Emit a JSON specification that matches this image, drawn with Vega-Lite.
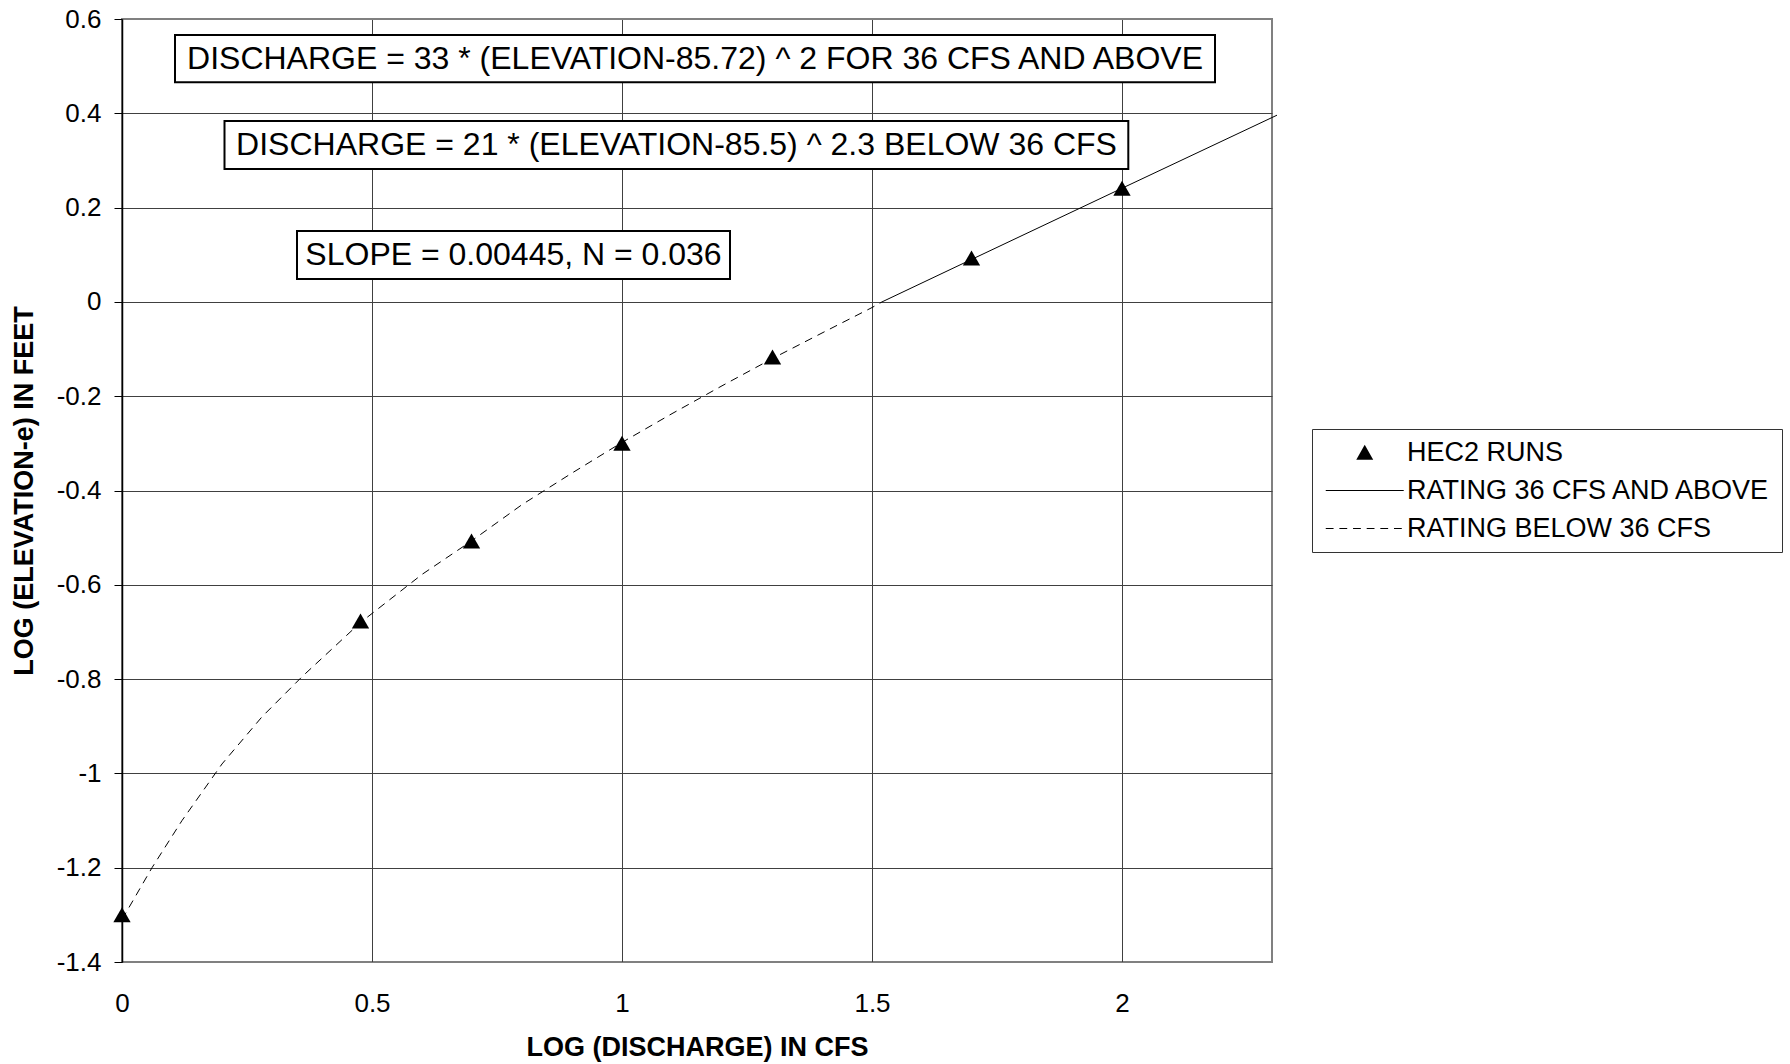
{
  "$schema": "https://vega.github.io/schema/vega-lite/v6.json",
  "width": 1150,
  "height": 943,
  "autosize": {"type": "none"},
  "padding": {"left": 122, "top": 19, "right": 518, "bottom": 102},
  "background": "white",
  "config": {
    "font": "Liberation Sans",
    "view": {"stroke": "#808080", "strokeWidth": 2},
    "axis": {
      "gridColor": "#404040",
      "gridWidth": 1,
      "gridOpacity": 1,
      "labelColor": "black",
      "labelFont": "Liberation Sans",
      "labelFontSize": 26,
      "titleColor": "black",
      "titleFont": "Liberation Sans",
      "titleFontSize": 27,
      "titleFontWeight": "bold",
      "labelFlush": false,
      "labelOverlap": false
    }
  },
  "datasets": {
    "boxes": [
      {"label": "DISCHARGE = 33 * (ELEVATION-85.72) ^ 2 FOR 36 CFS AND ABOVE", "x1": 0.106, "x2": 2.186, "y1": 0.566, "y2": 0.4657, "tx": 1.146, "ty": 0.516},
      {"label": "DISCHARGE = 21 * (ELEVATION-85.5) ^ 2.3 BELOW 36 CFS", "x1": 0.205, "x2": 2.0126, "y1": 0.3837, "y2": 0.2819, "tx": 1.109, "ty": 0.333},
      {"label": "SLOPE = 0.00445, N = 0.036", "x1": 0.35, "x2": 1.216, "y1": 0.1504, "y2": 0.0486, "tx": 0.783, "ty": 0.0995}
    ],
    "below": [
      {"q": 0.0, "e": -1.31},
      {"q": 0.06, "e": -1.20},
      {"q": 0.12, "e": -1.10},
      {"q": 0.2, "e": -0.98},
      {"q": 0.28, "e": -0.88},
      {"q": 0.36, "e": -0.795},
      {"q": 0.477, "e": -0.68},
      {"q": 0.6, "e": -0.578},
      {"q": 0.699, "e": -0.507},
      {"q": 0.8, "e": -0.43},
      {"q": 0.9, "e": -0.363},
      {"q": 1.0, "e": -0.298},
      {"q": 1.1, "e": -0.237},
      {"q": 1.2, "e": -0.178},
      {"q": 1.301, "e": -0.12},
      {"q": 1.4, "e": -0.066},
      {"q": 1.5, "e": -0.012},
      {"q": 1.52, "e": 0.0}
    ],
    "above": [
      {"q": 1.52, "e": 0.0},
      {"q": 1.699, "e": 0.09},
      {"q": 2.0, "e": 0.241},
      {"q": 2.31, "e": 0.396}
    ],
    "hec2": [
      {"q": 0.0, "e": -1.30, "series": "HEC2 RUNS"},
      {"q": 0.477, "e": -0.677, "series": "HEC2 RUNS"},
      {"q": 0.699, "e": -0.507, "series": "HEC2 RUNS"},
      {"q": 1.0, "e": -0.30, "series": "HEC2 RUNS"},
      {"q": 1.301, "e": -0.117, "series": "HEC2 RUNS"},
      {"q": 1.699, "e": 0.093, "series": "HEC2 RUNS"},
      {"q": 2.0, "e": 0.241, "series": "HEC2 RUNS"}
    ]
  },
  "layer": [
    {
      "data": {"name": "boxes"},
      "mark": {"type": "rect", "fill": "white", "stroke": "black", "strokeWidth": 2},
      "encoding": {
        "x": {
          "field": "x1", "type": "quantitative", "title": "LOG (DISCHARGE) IN CFS",
          "scale": {"domain": [0, 2.3], "nice": false, "zero": false},
          "axis": {
            "values": [0, 0.5, 1, 1.5, 2],
            "labelExpr": "toString(datum.value)",
            "ticks": false,
            "domain": false,
            "labelPadding": 28,
            "grid": true,
            "titleY": 72,
            "titleBaseline": "top"
          }
        },
        "x2": {"field": "x2"},
        "y": {
          "field": "y1", "type": "quantitative", "title": "LOG (ELEVATION-e) IN FEET",
          "scale": {"domain": [-1.4, 0.6], "nice": false, "zero": false},
          "axis": {
            "values": [-1.4, -1.2, -1.0, -0.8, -0.6, -0.4, -0.2, 0, 0.2, 0.4, 0.6],
            "labelExpr": "datum.value == 0 ? '0' : toString(round(datum.value * 10) / 10)",
            "tickSize": 8,
            "tickColor": "black",
            "domainColor": "black",
            "domainWidth": 1.5,
            "labelPadding": 13,
            "grid": true,
            "gridColor": {"condition": {"test": "datum.value < -1.35 || datum.value > 0.55", "value": "#808080"}, "value": "#404040"},
            "titleX": -98,
            "titleAngle": 270,
            "titleAlign": "center",
            "titleBaseline": "middle"
          }
        },
        "y2": {"field": "y2"}
      }
    },
    {
      "data": {"name": "boxes"},
      "mark": {"type": "text", "font": "Liberation Sans", "fontSize": 32, "color": "black", "align": "center", "baseline": "middle"},
      "encoding": {
        "x": {"field": "tx", "type": "quantitative", "title": "LOG (DISCHARGE) IN CFS"},
        "y": {"field": "ty", "type": "quantitative", "title": "LOG (ELEVATION-e) IN FEET"},
        "text": {"field": "label"}
      }
    },
    {
      "mark": {"type": "rule", "color": "black", "strokeWidth": 1.5},
      "encoding": {"y": {"datum": 0}}
    },
    {
      "data": {"name": "below"},
      "mark": {"type": "line", "color": "black", "strokeWidth": 1, "strokeDash": [8, 6]},
      "encoding": {
        "x": {"field": "q", "type": "quantitative", "title": "LOG (DISCHARGE) IN CFS"},
        "y": {"field": "e", "type": "quantitative", "title": "LOG (ELEVATION-e) IN FEET"}
      }
    },
    {
      "data": {"name": "above"},
      "mark": {"type": "line", "color": "black", "strokeWidth": 1},
      "encoding": {
        "x": {"field": "q", "type": "quantitative", "title": "LOG (DISCHARGE) IN CFS"},
        "y": {"field": "e", "type": "quantitative", "title": "LOG (ELEVATION-e) IN FEET"}
      }
    },
    {
      "data": {"name": "hec2"},
      "mark": {"type": "point", "filled": true, "color": "black", "size": 300, "opacity": 1, "shape": "triangle-up"},
      "encoding": {
        "x": {"field": "q", "type": "quantitative", "title": "LOG (DISCHARGE) IN CFS"},
        "y": {"field": "e", "type": "quantitative", "title": "LOG (ELEVATION-e) IN FEET"}
      }
    },
    {
      "data": {"name": "hec2"},
      "mark": {"type": "point", "filled": true, "color": "black", "size": 10, "opacity": 0},
      "encoding": {
        "x": {"field": "q", "type": "quantitative", "title": "LOG (DISCHARGE) IN CFS"},
        "y": {"field": "e", "type": "quantitative", "title": "LOG (ELEVATION-e) IN FEET"},
        "shape": {
          "field": "series", "type": "nominal",
          "scale": {
            "domain": ["HEC2 RUNS", "RATING 36 CFS AND ABOVE", "RATING BELOW 36 CFS"],
            "range": [
              "M3,-0.8L3.87,0.75L2.13,0.75Z",
              "M-1,-0.06L7,-0.06L7,0.06L-1,0.06Z",
              "M-1,-0.06L-0.2,-0.06L-0.2,0.06L-1,0.06ZM0.4,-0.06L1.2,-0.06L1.2,0.06L0.4,0.06ZM1.8,-0.06L2.6,-0.06L2.6,0.06L1.8,0.06ZM3.2,-0.06L4,-0.06L4,0.06L3.2,0.06ZM4.6,-0.06L5.4,-0.06L5.4,0.06L4.6,0.06ZM6,-0.06L6.8,-0.06L6.8,0.06L6,0.06Z"
            ]
          },
          "legend": {
            "title": null,
            "orient": "none",
            "legendX": 1190,
            "legendY": 410,
            "padding": 10,
            "strokeColor": "#333333",
            "fillColor": "white",
            "labelFont": "Liberation Sans",
            "labelFontSize": 27,
            "labelColor": "black",
            "labelLimit": 600,
            "labelOffset": 58,
            "rowPadding": 10,
            "symbolSize": 380,
            "symbolFillColor": "black",
            "symbolStrokeColor": "black",
            "symbolOpacity": 1
          }
        }
      }
    }
  ]
}
